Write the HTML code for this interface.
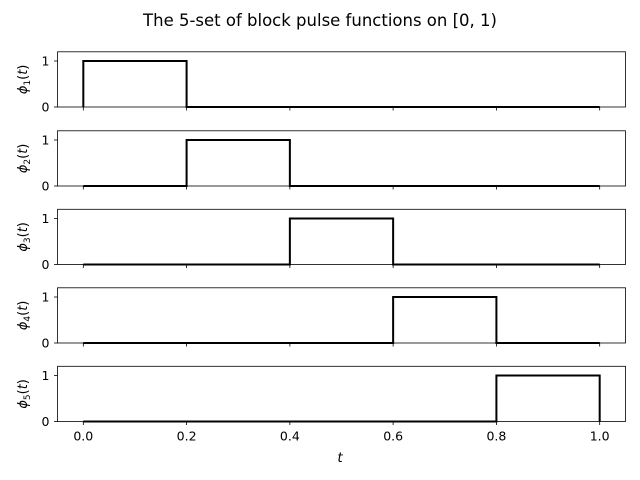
<!DOCTYPE html>
<html><head><meta charset="utf-8"><style>
body{margin:0;background:#fff;}
svg{display:block;font-family:"DejaVu Sans","Liberation Sans",sans-serif;}
</style></head><body>
<svg id="chart" width="640" height="480" xmlns="http://www.w3.org/2000/svg">
<text x="320" y="26" text-anchor="middle" font-size="16.5" fill="#000">The 5-set of block pulse functions on [0, 1)</text>
<text x="340" y="462" text-anchor="middle" font-size="13.5" font-style="italic" fill="#000">t</text>
</svg>
<script>
const edges = [0, 0.2, 0.4, 0.6, 0.8, 1.0];
const xTicks = [0, 0.2, 0.4, 0.6, 0.8, 1.0];
const xTickLabels = ["0.0", "0.2", "0.4", "0.6", "0.8", "1.0"];
const yTicks = [0, 1];
const pulseHeight = [1, 1, 1, 1, 1];

const NS = "http://www.w3.org/2000/svg";
const svg = document.getElementById("chart");
const L = 57.5, R = 625.5, H = 55.2;
const bottoms = [107, 186, 264.5, 343, 421.5];
const xs = v => L + (v + 0.05) / 1.1 * (R - L);
function mk(tag, attrs, parent) {
  const e = document.createElementNS(NS, tag);
  for (const k in attrs) e.setAttribute(k, attrs[k]);
  (parent || svg).appendChild(e);
  return e;
}
for (let k = 0; k < pulseHeight.length; k++) {
  const b = bottoms[k], top = b - H;
  const ys = v => b - v / 1.2 * H;
  const g = mk("g", {});
  
  
  const frame = mk("rect", {x: L, y: top, width: R - L, height: H, fill: "none", stroke: "#000", "stroke-width": 0.8}, g);
  
  
  xTicks.forEach((t, i) => {
    const tk = mk("line", {x1: xs(t), x2: xs(t), y1: b, y2: b + 3.5, stroke: "#000", "stroke-width": 0.8}, g);
    
    
    if (k === pulseHeight.length - 1) {
      const lb = mk("text", {x: xs(t), y: b + 19, "text-anchor": "middle", "font-size": 12.5, fill: "#000"}, g);
      lb.textContent = xTickLabels[i];
      
      
    }
  });
  yTicks.forEach(t => {
    const tk = mk("line", {x1: L - 3.5, x2: L, y1: ys(t), y2: ys(t), stroke: "#000", "stroke-width": 0.8}, g);
    
    
    const lb = mk("text", {x: L - 8, y: ys(t) + 4.5, "text-anchor": "end", "font-size": 12.5, fill: "#000"}, g);
    lb.textContent = String(t);
    
    
  });
  const yl = mk("text", {transform: "translate(27," + (b - H / 2) + ") rotate(-90)", "text-anchor": "middle", "font-size": 13, fill: "#000"}, g);
  yl.innerHTML = '<tspan font-style="italic">ϕ</tspan><tspan font-size="9" dy="3">' + (k + 1) + '</tspan><tspan dy="-3">(</tspan><tspan font-style="italic">t</tspan>)';
  
  
  const a = edges[k], c = edges[k + 1], h = pulseHeight[k];
  const pts = [[edges[0], 0], [a, 0], [a, h], [c, h], [c, 0], [edges[edges.length - 1], 0]];
  const line = mk("polyline", {points: pts.map(p => xs(p[0]) + "," + ys(p[1])).join(" "), fill: "none", stroke: "#000", "stroke-width": 2}, g);
  
  
}
</script>
</body></html>
